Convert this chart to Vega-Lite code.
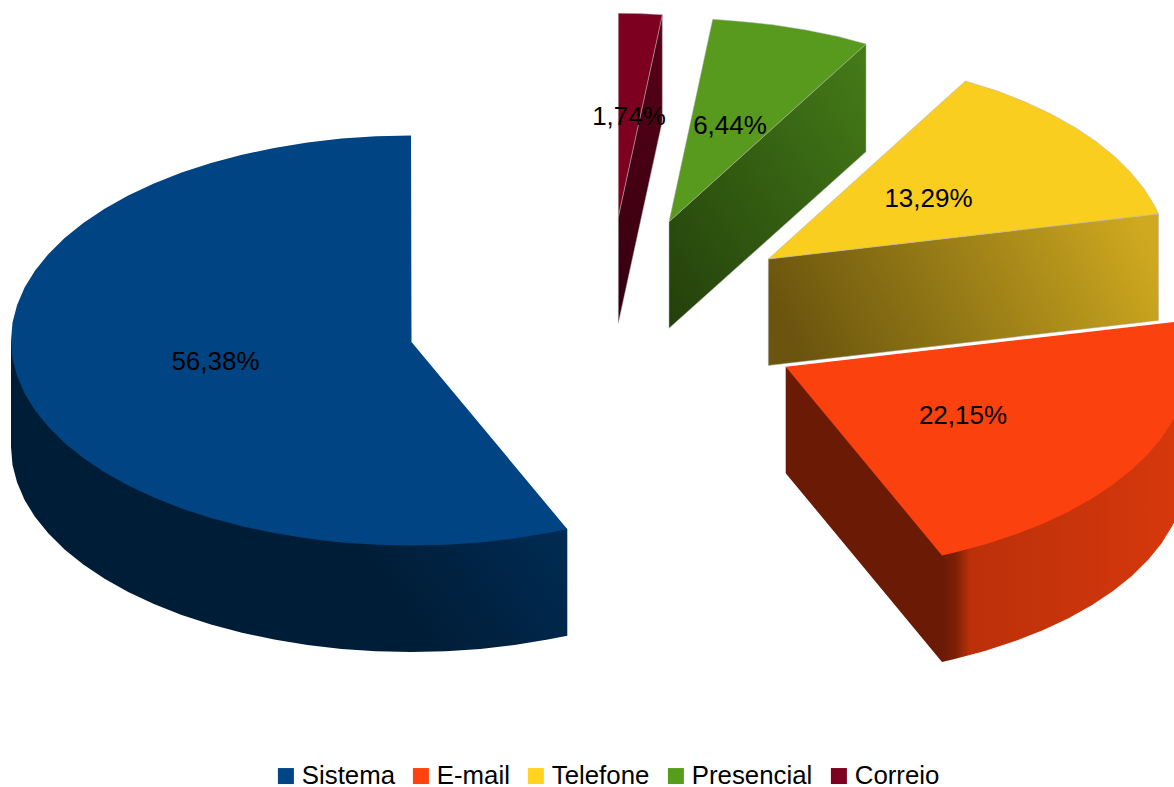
{"$schema":"https://vega.github.io/schema/vega-lite/v6.json","width":1174,"height":787,"padding":0,"autosize":{"type":"none"},"background":"white",
"config":{"view":{"stroke":null},"text":{"font":"Liberation Sans"}},
"datasets":{
"slices":[{"slice":"Sistema","share":56.38,"label":"56,38%","x":215.5,"y":362},{"slice":"E-mail","share":22.15,"label":"22,15%","x":963,"y":416},{"slice":"Telefone","share":13.29,"label":"13,29%","x":928.5,"y":199},{"slice":"Presencial","share":6.44,"label":"6,44%","x":730,"y":126},{"slice":"Correio","share":1.74,"label":"1,74%","x":629,"y":117}],
"outlines":[
{"p":"Sistema side","i":0,"x":11,"y":340.5},{"p":"Sistema side","i":1,"x":11,"y":447},{"p":"Sistema side","i":2,"x":12.5,"y":464.9},{"p":"Sistema side","i":3,"x":17.1,"y":482.6},{"p":"Sistema side","i":4,"x":24.6,"y":500.1},{"p":"Sistema side","i":5,"x":35.1,"y":517.1},{"p":"Sistema side","i":6,"x":48.5,"y":533.6},{"p":"Sistema side","i":7,"x":64.6,"y":549.5},{"p":"Sistema side","i":8,"x":83.3,"y":564.6},{"p":"Sistema side","i":9,"x":104.6,"y":578.8},{"p":"Sistema side","i":10,"x":128.2,"y":592},{"p":"Sistema side","i":11,"x":153.9,"y":604},{"p":"Sistema side","i":12,"x":181.6,"y":614.9},{"p":"Sistema side","i":13,"x":211,"y":624.5},{"p":"Sistema side","i":14,"x":242,"y":632.8},{"p":"Sistema side","i":15,"x":274.2,"y":639.6},{"p":"Sistema side","i":16,"x":307.5,"y":645},{"p":"Sistema side","i":17,"x":341.5,"y":648.9},{"p":"Sistema side","i":18,"x":376.1,"y":651.2},{"p":"Sistema side","i":19,"x":411,"y":652},{"p":"Sistema side","i":20,"x":445.9,"y":651.2},{"p":"Sistema side","i":21,"x":480.5,"y":648.9},{"p":"Sistema side","i":22,"x":514.5,"y":645},{"p":"Sistema side","i":23,"x":547.8,"y":639.6},{"p":"Sistema side","i":24,"x":567.3,"y":635.7},{"p":"Sistema side","i":25,"x":567.3,"y":529.2},{"p":"Sistema side","i":26,"x":411,"y":400},{"p":"Sistema side","i":27,"x":11,"y":340.5},
{"p":"Sistema top","i":0,"x":411.5,"y":342},{"p":"Sistema top","i":1,"x":411,"y":135.5},{"p":"Sistema top","i":2,"x":376.1,"y":136.3},{"p":"Sistema top","i":3,"x":341.5,"y":138.6},{"p":"Sistema top","i":4,"x":307.5,"y":142.5},{"p":"Sistema top","i":5,"x":274.2,"y":147.9},{"p":"Sistema top","i":6,"x":242,"y":154.7},{"p":"Sistema top","i":7,"x":211,"y":163},{"p":"Sistema top","i":8,"x":181.6,"y":172.6},{"p":"Sistema top","i":9,"x":153.9,"y":183.5},{"p":"Sistema top","i":10,"x":128.2,"y":195.5},{"p":"Sistema top","i":11,"x":104.6,"y":208.7},{"p":"Sistema top","i":12,"x":83.3,"y":222.9},{"p":"Sistema top","i":13,"x":64.6,"y":238},{"p":"Sistema top","i":14,"x":48.5,"y":253.9},{"p":"Sistema top","i":15,"x":35.1,"y":270.4},{"p":"Sistema top","i":16,"x":24.6,"y":287.4},{"p":"Sistema top","i":17,"x":17.1,"y":304.9},{"p":"Sistema top","i":18,"x":12.5,"y":322.6},{"p":"Sistema top","i":19,"x":11,"y":340.5},{"p":"Sistema top","i":20,"x":12.5,"y":358.4},{"p":"Sistema top","i":21,"x":17.1,"y":376.1},{"p":"Sistema top","i":22,"x":24.6,"y":393.6},{"p":"Sistema top","i":23,"x":35.1,"y":410.6},{"p":"Sistema top","i":24,"x":48.5,"y":427.1},{"p":"Sistema top","i":25,"x":64.6,"y":443},{"p":"Sistema top","i":26,"x":83.3,"y":458.1},{"p":"Sistema top","i":27,"x":104.6,"y":472.3},{"p":"Sistema top","i":28,"x":128.2,"y":485.5},{"p":"Sistema top","i":29,"x":153.9,"y":497.5},{"p":"Sistema top","i":30,"x":181.6,"y":508.4},{"p":"Sistema top","i":31,"x":211,"y":518},{"p":"Sistema top","i":32,"x":242,"y":526.3},{"p":"Sistema top","i":33,"x":274.2,"y":533.1},{"p":"Sistema top","i":34,"x":307.5,"y":538.5},{"p":"Sistema top","i":35,"x":341.5,"y":542.4},{"p":"Sistema top","i":36,"x":376.1,"y":544.7},{"p":"Sistema top","i":37,"x":411,"y":545.5},{"p":"Sistema top","i":38,"x":445.9,"y":544.7},{"p":"Sistema top","i":39,"x":480.5,"y":542.4},{"p":"Sistema top","i":40,"x":514.5,"y":538.5},{"p":"Sistema top","i":41,"x":547.8,"y":533.1},{"p":"Sistema top","i":42,"x":567.3,"y":529.2},{"p":"Sistema top","i":43,"x":411.5,"y":342},
{"p":"E-mail left","i":0,"x":785.7,"y":366.7},{"p":"E-mail left","i":1,"x":950,"y":500},{"p":"E-mail left","i":2,"x":943,"y":556},{"p":"E-mail left","i":3,"x":943,"y":661.6},{"p":"E-mail left","i":4,"x":942,"y":661.9},{"p":"E-mail left","i":5,"x":785.7,"y":473.2},{"p":"E-mail left","i":6,"x":785.7,"y":366.7},
{"p":"E-mail side","i":0,"x":942,"y":555.4},{"p":"E-mail side","i":1,"x":1000,"y":450},{"p":"E-mail side","i":2,"x":1174,"y":418},{"p":"E-mail side","i":3,"x":1174,"y":522.5},{"p":"E-mail side","i":4,"x":1172.1,"y":526.3},{"p":"E-mail side","i":5,"x":1161.6,"y":543.3},{"p":"E-mail side","i":6,"x":1148.2,"y":559.8},{"p":"E-mail side","i":7,"x":1132.1,"y":575.7},{"p":"E-mail side","i":8,"x":1113.4,"y":590.8},{"p":"E-mail side","i":9,"x":1092.1,"y":605},{"p":"E-mail side","i":10,"x":1068.5,"y":618.2},{"p":"E-mail side","i":11,"x":1042.8,"y":630.2},{"p":"E-mail side","i":12,"x":1015.1,"y":641.1},{"p":"E-mail side","i":13,"x":985.7,"y":650.7},{"p":"E-mail side","i":14,"x":954.7,"y":659},{"p":"E-mail side","i":15,"x":942,"y":661.9},{"p":"E-mail side","i":16,"x":942,"y":555.4},
{"p":"E-mail top","i":0,"x":785.7,"y":366.7},{"p":"E-mail top","i":1,"x":942,"y":555.4},{"p":"E-mail top","i":2,"x":954.7,"y":552.5},{"p":"E-mail top","i":3,"x":985.7,"y":544.2},{"p":"E-mail top","i":4,"x":1015.1,"y":534.6},{"p":"E-mail top","i":5,"x":1042.8,"y":523.7},{"p":"E-mail top","i":6,"x":1068.5,"y":511.7},{"p":"E-mail top","i":7,"x":1092.1,"y":498.5},{"p":"E-mail top","i":8,"x":1113.4,"y":484.3},{"p":"E-mail top","i":9,"x":1132.1,"y":469.2},{"p":"E-mail top","i":10,"x":1148.2,"y":454},{"p":"E-mail top","i":11,"x":1161.6,"y":438},{"p":"E-mail top","i":12,"x":1172.1,"y":421.5},{"p":"E-mail top","i":13,"x":1174,"y":418},{"p":"E-mail top","i":14,"x":1174,"y":322},{"p":"E-mail top","i":15,"x":785.7,"y":366.7},
{"p":"Telefone side","i":0,"x":768.3,"y":259},{"p":"Telefone side","i":1,"x":1158.5,"y":213.9},{"p":"Telefone side","i":2,"x":1158.5,"y":320.4},{"p":"Telefone side","i":3,"x":768.3,"y":365.5},{"p":"Telefone side","i":4,"x":768.3,"y":259},
{"p":"Telefone top","i":0,"x":768.3,"y":259},{"p":"Telefone top","i":1,"x":965.3,"y":81},{"p":"Telefone top","i":2,"x":997.7,"y":91.1},{"p":"Telefone top","i":3,"x":1025.4,"y":102},{"p":"Telefone top","i":4,"x":1051.1,"y":114},{"p":"Telefone top","i":5,"x":1074.7,"y":127.2},{"p":"Telefone top","i":6,"x":1096,"y":141.4},{"p":"Telefone top","i":7,"x":1114.7,"y":156.5},{"p":"Telefone top","i":8,"x":1130.8,"y":172.4},{"p":"Telefone top","i":9,"x":1144.2,"y":188.9},{"p":"Telefone top","i":10,"x":1154.7,"y":205.9},{"p":"Telefone top","i":11,"x":1158.5,"y":213.9},{"p":"Telefone top","i":12,"x":768.3,"y":259},
{"p":"Presencial side","i":0,"x":669,"y":221.7},{"p":"Presencial side","i":1,"x":866,"y":44},{"p":"Presencial side","i":2,"x":866,"y":151.7},{"p":"Presencial side","i":3,"x":669,"y":328.3},{"p":"Presencial side","i":4,"x":669,"y":221.7},
{"p":"Presencial top","i":0,"x":669,"y":221.7},{"p":"Presencial top","i":1,"x":712.7,"y":19.3},{"p":"Presencial top","i":2,"x":738.4,"y":21.3},{"p":"Presencial top","i":3,"x":772.5,"y":24.7},{"p":"Presencial top","i":4,"x":805.8,"y":29.9},{"p":"Presencial top","i":5,"x":838,"y":36.4},{"p":"Presencial top","i":6,"x":866,"y":44},{"p":"Presencial top","i":7,"x":669,"y":221.7},
{"p":"Correio side","i":0,"x":618.3,"y":216.8},{"p":"Correio side","i":1,"x":662.3,"y":14.7},{"p":"Correio side","i":2,"x":662.3,"y":121.2},{"p":"Correio side","i":3,"x":618.3,"y":323.3},{"p":"Correio side","i":4,"x":618.3,"y":216.8},
{"p":"Correio top","i":0,"x":618.3,"y":216.8},{"p":"Correio top","i":1,"x":618.3,"y":13.3},{"p":"Correio top","i":2,"x":640,"y":13.6},{"p":"Correio top","i":3,"x":662.3,"y":14.7},{"p":"Correio top","i":4,"x":618.3,"y":216.8}
]},
"encoding":{"x":{"field":"x","type":"quantitative","scale":{"domain":[0,1174],"nice":false,"zero":false},"axis":null},"y":{"field":"y","type":"quantitative","scale":{"domain":[0,787],"reverse":true,"nice":false,"zero":false},"axis":null}},
"layer":[
{"data":{"name":"outlines"},"transform":[{"filter":"datum.p=='Sistema side'"}],"mark":{"type":"line","stroke":null,"fill":{"gradient":"linear","x1":0,"y1":0.7,"x2":1,"y2":0.3,"stops":[{"offset":0,"color":"#001d37"},{"offset":0.55,"color":"#001d37"},{"offset":1,"color":"#00305d"}]}},"encoding":{"order":{"field":"i"}}},
{"data":{"name":"outlines"},"transform":[{"filter":"datum.p=='Sistema top'"}],"mark":{"type":"line","stroke":null,"fill":"#004483"},"encoding":{"order":{"field":"i"}}},
{"data":{"name":"outlines"},"transform":[{"filter":"datum.p=='E-mail left'"}],"mark":{"type":"line","stroke":null,"fill":"#6b1a05"},"encoding":{"order":{"field":"i"}}},
{"data":{"name":"outlines"},"transform":[{"filter":"datum.p=='E-mail side'"}],"mark":{"type":"line","stroke":null,"fill":{"gradient":"linear","x1":0,"y1":0,"x2":1,"y2":0,"stops":[{"offset":0,"color":"#6b1a05"},{"offset":0.06,"color":"#7d2007"},{"offset":0.12,"color":"#bb300a"},{"offset":1,"color":"#d6380c"}]}},"encoding":{"order":{"field":"i"}}},
{"data":{"name":"outlines"},"transform":[{"filter":"datum.p=='E-mail top'"}],"mark":{"type":"line","stroke":null,"fill":"#fb410e"},"encoding":{"order":{"field":"i"}}},
{"data":{"name":"outlines"},"transform":[{"filter":"datum.p=='Telefone side'"}],"mark":{"type":"line","stroke":"#b3b3b3","strokeWidth":0.5,"fill":{"gradient":"linear","x1":0,"y1":0.5,"x2":1,"y2":0.3,"stops":[{"offset":0,"color":"#6b550e"},{"offset":0.5,"color":"#9a7e17"},{"offset":1,"color":"#cfa91f"}]}},"encoding":{"order":{"field":"i"}}},
{"data":{"name":"outlines"},"transform":[{"filter":"datum.p=='Telefone top'"}],"mark":{"type":"line","stroke":"#b3b3b3","strokeWidth":0.5,"fill":"#f9ce1f"},"encoding":{"order":{"field":"i"}}},
{"data":{"name":"outlines"},"transform":[{"filter":"datum.p=='Presencial side'"}],"mark":{"type":"line","stroke":"#b3b3b3","strokeWidth":0.5,"fill":{"gradient":"linear","x1":0,"y1":1,"x2":1,"y2":0,"stops":[{"offset":0,"color":"#23400b"},{"offset":1,"color":"#457c18"}]}},"encoding":{"order":{"field":"i"}}},
{"data":{"name":"outlines"},"transform":[{"filter":"datum.p=='Presencial top'"}],"mark":{"type":"line","stroke":"#b3b3b3","strokeWidth":0.5,"fill":"#579a1d"},"encoding":{"order":{"field":"i"}}},
{"data":{"name":"outlines"},"transform":[{"filter":"datum.p=='Correio side'"}],"mark":{"type":"line","stroke":"#b3b3b3","strokeWidth":0.5,"fill":{"gradient":"linear","x1":0,"y1":1,"x2":0,"y2":0,"stops":[{"offset":0,"color":"#330010"},{"offset":1,"color":"#5a0018"}]}},"encoding":{"order":{"field":"i"}}},
{"data":{"name":"outlines"},"transform":[{"filter":"datum.p=='Correio top'"}],"mark":{"type":"line","stroke":"#b3b3b3","strokeWidth":0.5,"fill":"#7e0021"},"encoding":{"order":{"field":"i"}}},
{"data":{"name":"slices"},"mark":{"type":"square","size":0,"opacity":1},"encoding":{"fill":{"field":"slice","type":"nominal","scale":{"domain":["Sistema","E-mail","Telefone","Presencial","Correio"],"range":["#004586","#ff420e","#ffd320","#579d1c","#7e0021"]},"legend":{"title":null,"orient":"none","direction":"horizontal","legendX":273,"legendY":763,"symbolType":"square","symbolSize":256,"symbolOpacity":1,"symbolStrokeWidth":0,"labelFont":"Liberation Sans","labelFontSize":25.8,"labelColor":"#000000","labelOffset":3,"columnPadding":13,"padding":0}}}},
{"data":{"name":"slices"},"mark":{"type":"text","font":"Liberation Sans","fontSize":26,"color":"#000000","align":"center","baseline":"middle"},"encoding":{"text":{"field":"label"}}}
]}
